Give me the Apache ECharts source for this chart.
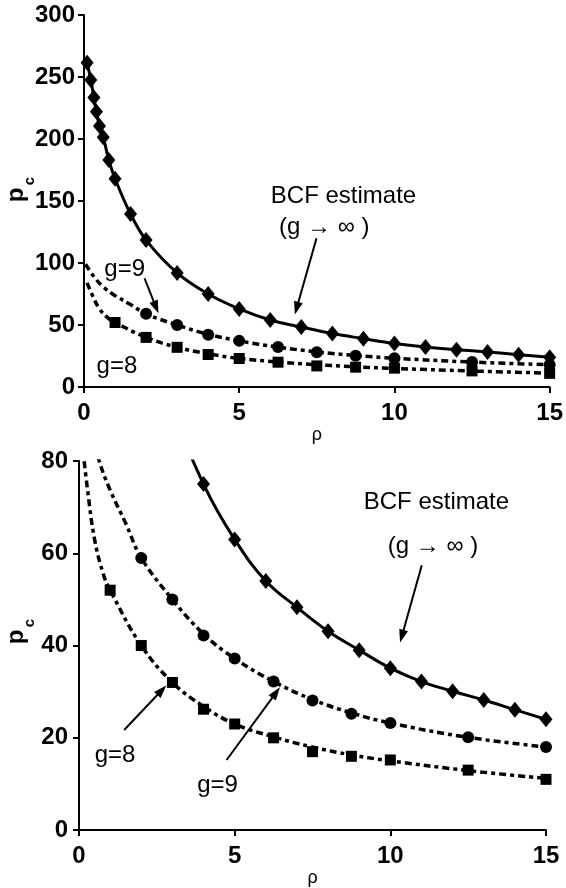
<!DOCTYPE html>
<html>
<head>
<meta charset="utf-8">
<script src="https://cdn.jsdelivr.net/npm/echarts@6/dist/echarts.min.js"></script>
<style>
  html, body { margin: 0; padding: 0; background: #fff; }
  #chart { width: 566px; height: 888px; }
</style>
</head>
<body>
<div id="chart"></div>
<script>
// BCF estimate (g -> infinity): critical p_c against rho
const rhoBCF = [0.1, 0.22, 0.32, 0.4, 0.5, 0.62, 0.8, 1, 1.5, 2, 3, 4, 5, 6, 7, 8, 9, 10, 11, 12, 13, 14, 15];
const pcBCF  = [261.5, 247.6, 233.5, 222, 210.5, 201.4, 183, 168, 139.5, 118.5, 92, 75, 63, 54, 48.3, 43.1, 39, 35.1, 32.2, 30.1, 28.2, 26.1, 24];

// g = 9 measured points and the fitted curve through them
const rho9 = [2, 3, 4, 5, 6.25, 7.5, 8.75, 10, 12.5, 15];
const pc9  = [59, 50, 42.2, 37.2, 32.2, 28.1, 25.2, 23.2, 20.1, 18];
const fitRho9 = [0.05, 0.35, 0.65, 1, 1.5, 2, 3, 4, 5, 6.25, 7.5, 8.75, 10, 12.5, 15];
const fitPc9  = [99, 88, 80, 73.7, 66.5, 59, 50, 42.5, 37.2, 32.2, 28.3, 25.4, 23.2, 20.1, 18];

// g = 8 measured points and the fitted curve through them
const rho8 = [1, 2, 3, 4, 5, 6.25, 7.5, 8.75, 10, 12.5, 15];
const pc8  = [52, 40, 32, 26.2, 23, 20, 17, 16, 15.2, 13, 11];
const fitRho8 = [0.1, 0.27, 0.5, 0.78, 1, 2, 3, 4, 5, 6.25, 7.5, 8.75, 10, 12.5, 15];
const fitPc8  = [84, 74, 63, 55.5, 52, 40, 32, 26.8, 23, 20.2, 18, 16.3, 15, 12.9, 11.2];

// axis ticks
const xTicks = [0, 5, 10, 15];
const yTicksTop = [0, 50, 100, 150, 200, 250, 300];
const yTicksBottom = [0, 20, 40, 60, 80];

const pairs = (xs, ys) => xs.map((x, i) => [x, ys[i]]);
const FONT = 'Liberation Sans, Arial, Helvetica, sans-serif';
const BLACK = '#000';

function xAxisFor(gridIndex, gap) {
  return {
    type: 'value', gridIndex,
    min: xTicks[0], max: xTicks[xTicks.length - 1], interval: xTicks[1] - xTicks[0],
    name: 'ρ', nameLocation: 'middle', nameGap: gap,
    nameTextStyle: { fontFamily: FONT, fontSize: 18, color: BLACK },
    axisLine: { show: true, onZero: false, lineStyle: { color: BLACK, width: 2 } },
    axisTick: { show: true, length: 6, lineStyle: { color: BLACK, width: 2 } },
    axisLabel: { margin: 14, fontFamily: FONT, fontSize: 24, fontWeight: 'bold', color: BLACK },
    splitLine: { show: false }
  };
}
function yAxisFor(gridIndex, ticks, margin) {
  return {
    type: 'value', gridIndex,
    min: ticks[0], max: ticks[ticks.length - 1], interval: ticks[1] - ticks[0],
    axisLine: { show: true, onZero: false, lineStyle: { color: BLACK, width: 2 } },
    axisTick: { show: true, length: 6, lineStyle: { color: BLACK, width: 2 } },
    axisLabel: { margin, fontFamily: FONT, fontSize: 24, fontWeight: 'bold', color: BLACK },
    splitLine: { show: false }
  };
}

const dashPattern = [7, 4, 4, 4];

function arrowLines(list) {
  return {
    silent: true, animation: false,
    symbol: ['none', 'triangle'], symbolSize: [9, 13],
    label: { show: false },
    lineStyle: { color: BLACK, width: 2, type: 'solid' },
    data: list.map(a => [{ coord: a[0] }, { coord: a[1] }])
  };
}

// annotation arrows, in data coordinates of each panel
const arrowsTop = [
  [[7.49, 119.9], [6.85, 63.5]],
  [[1.95, 87.7], [2.32, 64.3]]
];
const arrowsBottom = [
  [[11.01, 57.4], [10.37, 42.0]],
  [[1.45, 21.7], [2.66, 30.3]],
  [[4.74, 15.2], [6.33, 29.8]]
];

function seriesFor(idx, arrows) {
  return [
    {
      type: 'line', xAxisIndex: idx, yAxisIndex: idx,
      data: pairs(fitRho8, fitPc8), smooth: 0.4,
      showSymbol: false, clip: true, z: 2,
      lineStyle: { color: BLACK, width: 3.5, type: dashPattern }
    },
    {
      type: 'line', xAxisIndex: idx, yAxisIndex: idx,
      data: pairs(fitRho9, fitPc9), smooth: 0.4,
      showSymbol: false, clip: true, z: 2,
      lineStyle: { color: BLACK, width: 3.5, type: dashPattern },
      markLine: arrowLines(arrows)
    },
    {
      type: 'line', xAxisIndex: idx, yAxisIndex: idx,
      data: pairs(rhoBCF, pcBCF), smooth: 0.4,
      symbol: 'diamond', symbolSize: [13, 16], showAllSymbol: true, clip: true, z: 3,
      itemStyle: { color: BLACK, opacity: 1 },
      lineStyle: { color: BLACK, width: 3 }
    },
    {
      type: 'scatter', xAxisIndex: idx, yAxisIndex: idx,
      data: pairs(rho9, pc9), symbol: 'circle', symbolSize: 12, z: 4,
      itemStyle: { color: BLACK, opacity: 1 }
    },
    {
      type: 'scatter', xAxisIndex: idx, yAxisIndex: idx,
      data: pairs(rho8, pc8), symbol: 'rect', symbolSize: 11, z: 4,
      itemStyle: { color: BLACK, opacity: 1 }
    }
  ];
}

const chart = echarts.init(document.getElementById('chart'), null, { renderer: 'canvas' });
chart.setOption({
  animation: false,
  backgroundColor: '#fff',
  grid: [
    { left: 84, right: 13, top: 15, height: 372 },
    { left: 79, right: 20, top: 461, height: 373 }
  ],
  xAxis: [xAxisFor(0, 36), xAxisFor(1, 29)],
  yAxis: [yAxisFor(0, yTicksTop, 9), yAxisFor(1, yTicksBottom, 11)],
  series: [].concat(seriesFor(0, arrowsTop), seriesFor(1, arrowsBottom))
});

// text annotations, anchored in data coordinates
const notes = [
  { grid: 0, at: [8.36, 154], text: 'BCF estimate' },
  { grid: 0, at: [7.74, 129], text: '(g \u2192 \u221E )' },
  { grid: 0, at: [1.31, 95.2], text: 'g=9' },
  { grid: 0, at: [1.06, 16.4], text: 'g=8' },
  { grid: 1, at: [11.48, 70.95], text: 'BCF estimate' },
  { grid: 1, at: [11.37, 61.5], text: '(g \u2192 \u221E )' },
  { grid: 1, at: [1.16, 16.1], text: 'g=8' },
  { grid: 1, at: [4.45, 9.6], text: 'g=9' }
];

const graphics = notes.map(n => {
  const p = chart.convertToPixel({ gridIndex: n.grid }, n.at);
  return {
    type: 'text', x: p[0], y: p[1], z: 10,
    style: { text: n.text, fill: BLACK, font: '24px ' + FONT, align: 'center', verticalAlign: 'middle' }
  };
});

// rotated y-axis titles: p with subscript c
[[16, 195], [16, 637]].forEach(pos => {
  graphics.push({
    type: 'group', x: pos[0], y: pos[1], rotation: Math.PI / 2, z: 10,
    children: [
      { type: 'text', x: 0, y: 0, style: { text: 'p', fill: BLACK, font: 'bold 24px ' + FONT, align: 'center', verticalAlign: 'middle' } },
      { type: 'text', x: 14, y: 14, style: { text: 'c', fill: BLACK, font: 'bold 15px ' + FONT, align: 'center', verticalAlign: 'middle' } }
    ]
  });
});

chart.setOption({ graphic: graphics });
</script>
</body>
</html>
